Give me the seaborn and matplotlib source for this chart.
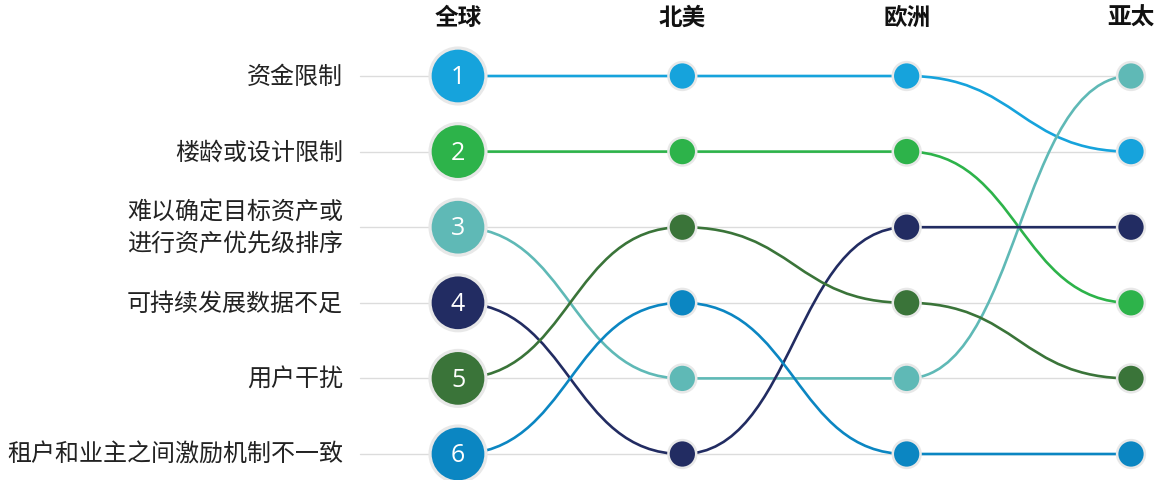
import numpy as np
import pandas as pd
import seaborn as sns
from matplotlib import pyplot as plt
from matplotlib.path import Path
from matplotlib.patches import PathPatch

regions = ["全球", "北美", "欧洲", "亚太"]
categories = ["资金限制", "楼龄或设计限制", "难以确定目标资产或\n进行资产优先级排序",
              "可持续发展数据不足", "用户干扰", "租户和业主之间激励机制不一致"]
rank_global = [1, 2, 3, 4, 5, 6]
rank_na = [1, 2, 5, 6, 3, 4]
rank_eu = [1, 2, 5, 3, 4, 6]
rank_ap = [2, 4, 1, 3, 5, 6]
colors = ["#16a3dc", "#2db34a", "#5fb9b6", "#222c62", "#3a7439", "#0b86c2"]

rows = []
for i, cat in enumerate(categories):
    for j, ranks in enumerate([rank_global, rank_na, rank_eu, rank_ap]):
        rows.append({"category": cat, "region": j, "rank": ranks[i]})
df = pd.DataFrame(rows)
palette = dict(zip(categories, colors))

sns.set_style("white")
plt.rcParams["font.family"] = ["Noto Sans CJK SC", "DejaVu Sans"]

fig = plt.figure(figsize=(11.61, 4.81), dpi=100)
ax = fig.add_axes([0, 0, 1, 1])
px_x = (1131 - 458) / 3
px_y = (454 - 76) / 5
xlim = (-458 / px_x, (1161 - 458) / px_x)
ylim = (1 + (481 - 77) / px_y, 1 - 77 / px_y)

# gray guide lines
for r in rank_global:
    ax.plot([(360 - 458) / px_x, (1140 - 458) / px_x], [r, r], color="#dcdcdc", lw=1.0, zorder=1)

# curved connectors
for cat in categories:
    d = df[df["category"] == cat].sort_values("region")
    xs, ys = d["region"].values, d["rank"].values
    for k in range(len(xs) - 1):
        x0, x1, y0, y1 = xs[k], xs[k + 1], ys[k], ys[k + 1]
        xm = (x0 + x1) / 2
        path = Path([(x0, y0), (xm, y0), (xm, y1), (x1, y1)],
                    [Path.MOVETO, Path.CURVE4, Path.CURVE4, Path.CURVE4])
        ax.add_patch(PathPatch(path, facecolor="none", edgecolor=palette[cat], lw=1.9, zorder=2))

big = df[df["region"] == 0]
small = df[df["region"] > 0]
sns.scatterplot(data=small, x="region", y="rank", hue="category", palette=palette, s=400,
                edgecolor="#e8e8e8", linewidth=1.8, legend=False, ax=ax, zorder=3)
sns.scatterplot(data=big, x="region", y="rank", hue="category", palette=palette, s=1620,
                edgecolor="#e8e8e8", linewidth=2.3, legend=False, ax=ax, zorder=3)
ax.set_xlim(*xlim)
ax.set_ylim(*ylim)
ax.axis("off")

for _, row in big.iterrows():
    ax.text(row["region"], row["rank"] + 0.01, str(row["rank"]), color="white", fontsize=18,
            ha="center", va="center", family=["Open Sans", "DejaVu Sans"], zorder=4)

for cat, r in zip(categories, rank_global):
    ax.text((343 - 458) / px_x, r, cat, ha="right", va="center", fontsize=17.3,
            color="#222222", linespacing=1.3)

for j, reg in enumerate(regions):
    ax.text(j, 1 + (18 - 77) / px_y, reg, ha="center", va="center", fontsize=17,
            fontweight="bold", color="#111111")

fig.savefig("out.png", dpi=100)
